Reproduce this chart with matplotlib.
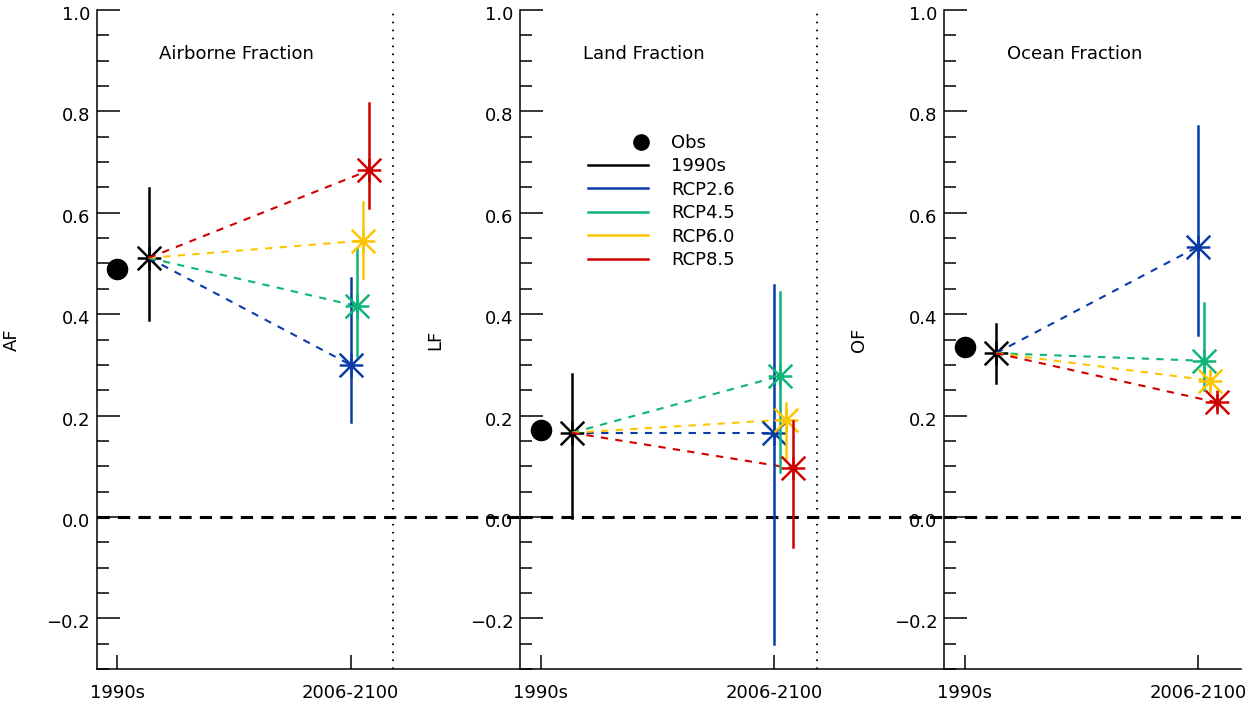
import matplotlib.pyplot as plt
from matplotlib.path import Path
from matplotlib.lines import Line2D
from matplotlib.legend_handler import HandlerLine2D
from matplotlib.ticker import MultipleLocator
from matplotlib.transforms import ScaledTranslation

plt.rcParams['font.family'] = 'DejaVu Sans'
plt.rcParams['font.size'] = 13

# data
periods = ["1990s", "2006-2100"]
titles = ["Airborne Fraction", "Land Fraction", "Ocean Fraction"]
ylabels = ["AF", "LF", "OF"]
scenarios = ["RCP2.6", "RCP4.5", "RCP6.0", "RCP8.5"]
colors = ["#0a3ca8", "#0fb478", "#ffc400", "#d00000"]

obs = [0.490, 0.172, 0.336]
hist_mid = [0.511, 0.166, 0.323]
hist_lo = [0.388, -0.003, 0.265]
hist_hi = [0.648, 0.281, 0.380]

af_mid = [0.300, 0.416, 0.545, 0.684]
af_lo = [0.188, 0.317, 0.472, 0.609]
af_hi = [0.472, 0.530, 0.622, 0.817]

lf_mid = [0.166, 0.278, 0.192, 0.096]
lf_lo = [-0.250, 0.089, 0.116, -0.060]
lf_hi = [0.458, 0.444, 0.225, 0.189]

of_mid = [0.533, 0.308, 0.269, 0.226]
of_lo = [0.359, 0.251, 0.252, 0.212]
of_hi = [0.771, 0.422, 0.288, 0.241]

rcp_mid = [af_mid, lf_mid, of_mid]
rcp_lo = [af_lo, lf_lo, of_lo]
rcp_hi = [af_hi, lf_hi, of_hi]

# small horizontal offsets so the scenarios do not overlap
hist_dx = 0.135
rcp_dx = [0.0, 0.027, 0.054, 0.081]

# IDL-style asterisk (+ and x)
star = Path([(-1, 0), (1, 0), (0, -1), (0, 1), (-1, -1), (1, 1), (-1, 1), (1, -1)],
            [Path.MOVETO, Path.LINETO] * 4)


class RightDot(HandlerLine2D):
    def get_xdata(self, legend, xdescent, ydescent, width, height, fontsize):
        x0 = -xdescent + 0.76 * width
        x1 = -xdescent + width
        return [x0, x1], [0.5 * (x0 + x1)]


fig = plt.figure(figsize=(12.54, 7.04), dpi=100)

# panel layout in pixels
lefts = [96.7, 520.0, 944.0]
widths = [423.3, 424.0, 296.7]
px_per_unit = 233.3
xmin = -0.088

axes = []
for i in range(3):
    ax = fig.add_axes([lefts[i] / 1254, 35 / 704, widths[i] / 1254, 659 / 704])
    ax.patch.set_alpha(0)
    ax.set_xlim(xmin, xmin + widths[i] / px_per_unit)
    ax.set_ylim(-0.3, 1.0)
    for s in ['top', 'right']:
        ax.spines[s].set_visible(False)
    for s in ['left', 'bottom']:
        ax.spines[s].set_linewidth(1.1)

    ax.set_xticks([0, 1], periods)
    ax.tick_params(axis='x', direction='in', length=10, width=1.1, pad=11)
    yt = [-0.2, 0.0, 0.2, 0.4, 0.6, 0.8, 1.0]
    ax.set_yticks(yt, [f"{v:.1f}".replace("-", "\u2212") for v in yt])
    ax.yaxis.set_minor_locator(MultipleLocator(0.05))
    ax.tick_params(axis='y', which='major', direction='in', length=16.5, width=1.1, pad=4.8)
    ax.tick_params(axis='y', which='minor', direction='in', length=8.6, width=1.1)
    shift = ScaledTranslation(0, -3 / 100, fig.dpi_scale_trans)
    for lab in ax.get_yticklabels():
        lab.set_transform(lab.get_transform() + shift)

    ax.set_ylabel(ylabels[i])
    ax.yaxis.set_label_coords(-76 / widths[i], 0.5)
    ax.text(0.18, 0.913, titles[i], ha='left', va='center')

    ax.axhline(0, color='k', lw=2.2, ls=(0, (4, 2.7)), zorder=1)
    if i < 2:
        ax.axvline(1.183, color='k', lw=1.4, ls=(0, (0.8, 3.3)))

    # observations
    ax.plot(0, obs[i], 'o', color='k', ms=14.5, zorder=5)
    # 1990s model mean and range
    ax.plot([hist_dx, hist_dx], [hist_lo[i], hist_hi[i]], color='k', lw=1.8, zorder=4)
    ax.plot(hist_dx, hist_mid[i], marker=star, ms=17, mew=1.8, mec='k', mfc='none',
            ls='none', zorder=4)

    for j in range(4):
        x = 1 + rcp_dx[j]
        ax.plot([hist_dx, x], [hist_mid[i], rcp_mid[i][j]], color=colors[j], lw=1.5,
                ls=(0, (3.5, 3.5)), zorder=5)
    for j in range(4):
        x = 1 + rcp_dx[j]
        ax.plot([x, x], [rcp_lo[i][j], rcp_hi[i][j]], color=colors[j], lw=1.8, zorder=6)
        ax.plot(x, rcp_mid[i][j], marker=star, ms=17, mew=1.8, mec=colors[j], mfc='none',
                ls='none', zorder=6)
    axes.append(ax)

# legend in the middle panel
handles = [Line2D([], [], color='k', marker='o', ms=11, ls='none', label='Obs'),
           Line2D([], [], color='k', lw=1.8, label='1990s')]
for c, name in zip(colors, scenarios):
    handles.append(Line2D([], [], color=c, lw=1.8, label=name))
axes[1].legend(handles=handles, loc='upper left', bbox_to_anchor=(0.161, 0.812),
               frameon=False, handlelength=3.3, handletextpad=1.3, labelspacing=0.3,
               borderpad=0, borderaxespad=0, handler_map={handles[0]: RightDot()})

fig.savefig('out.png', dpi=100)
